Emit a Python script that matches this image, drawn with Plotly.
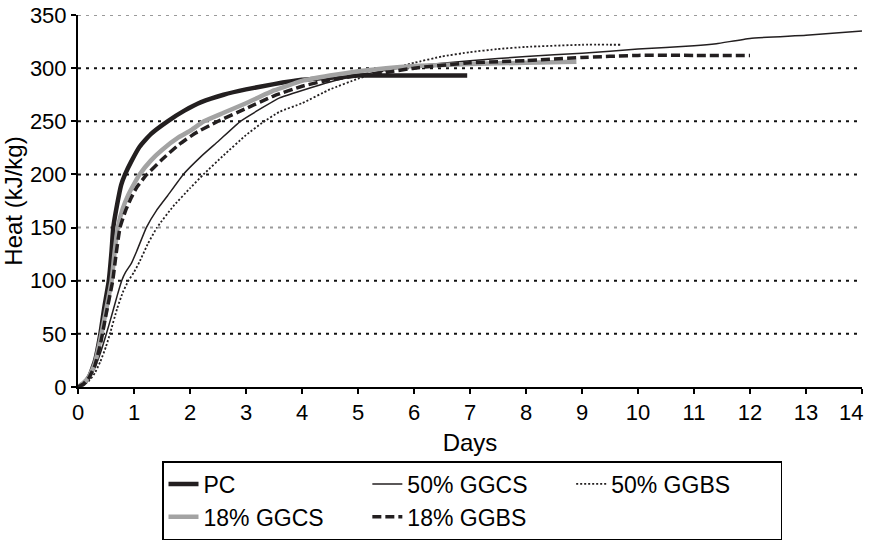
import plotly.graph_objects as go

# Cumulative heat of hydration (kJ/kg) against age (days)
pc_days = [0, 0.1, 0.2, 0.3, 0.4, 0.47, 0.55, 0.6, 0.63, 0.7, 0.77, 0.84, 0.95, 1.1, 1.3,
           1.6, 1.9, 2.2, 2.6, 3.0, 3.5, 4.0, 4.5, 5.0, 5.5, 6.0, 6.95]
pc_heat = [0, 3, 10, 24, 50, 75, 100, 128, 150, 172, 190, 200, 212, 226, 238,
           250, 260, 268, 275, 280, 285, 289, 291, 293, 293, 293, 293]

ggcs50_days = [0, 0.1, 0.2, 0.3, 0.4, 0.5, 0.6, 0.7, 0.78, 0.85, 0.95, 1.05, 1.22, 1.4,
               1.6, 1.88, 2.2, 2.5, 2.9, 3.3, 3.6, 4.0, 4.5, 5.0, 5.5, 6.0, 7.0, 8.0,
               9.0, 10.0, 11.0, 11.4, 12.0, 13.0, 14.0]
ggcs50_heat = [0, 3, 9, 18, 32, 49, 67, 86, 100, 108, 116, 128, 150, 166,
               180, 200, 217, 231, 250, 263, 272, 279, 287, 293, 298, 302, 307, 311,
               314, 318, 321, 323, 328, 331, 335]

ggbs50_days = [0, 0.1, 0.2, 0.3, 0.4, 0.5, 0.57, 0.7, 0.8, 0.9, 1.0, 1.1, 1.25, 1.41,
               1.7, 2.0, 2.24, 2.6, 3.0, 3.3, 3.6, 4.0, 4.5, 5.0, 5.5, 6.0, 6.5, 7.0,
               7.5, 8.0, 9.0, 9.7]
ggbs50_heat = [0, 2, 6, 13, 24, 38, 50, 74, 89, 100, 108, 118, 135, 150,
               170, 187, 200, 218, 237, 249, 259, 267, 280, 290, 298, 305, 311, 315,
               318, 320, 322, 322]

ggcs18_days = [0, 0.1, 0.2, 0.3, 0.4, 0.5, 0.6, 0.65, 0.71, 0.8, 0.9, 1.0, 1.1, 1.3, 1.5,
               1.8, 2.0, 2.25, 2.6, 3.0, 3.5, 4.0, 4.5, 5.0, 5.5, 6.0, 7.0, 8.0, 8.9]
ggcs18_heat = [0, 4, 10, 22, 45, 72, 100, 125, 150, 168, 181, 191, 200, 213, 223,
               235, 241, 250, 258, 267, 279, 288, 293, 297, 300, 302, 304, 305, 306]

ggbs18_days = [0, 0.1, 0.2, 0.3, 0.4, 0.5, 0.62, 0.68, 0.75, 0.85, 0.95, 1.05, 1.23, 1.5,
               1.8, 2.1, 2.5, 3.0, 3.5, 4.0, 4.5, 5.0, 5.5, 6.0, 7.0, 8.0, 9.0, 10.0,
               11.0, 12.0]
ggbs18_heat = [0, 3, 9, 20, 40, 68, 100, 125, 150, 166, 178, 188, 200, 214,
               228, 239, 250, 262, 274, 283, 289, 293, 296, 300, 305, 307, 310, 312,
               312, 312]

x_ticks = list(range(0, 15))
y_ticks = [0, 50, 100, 150, 200, 250, 300, 350]
grid_colors = {50: "#111111", 100: "#111111", 150: "#9a9a9a", 200: "#111111",
               250: "#111111", 300: "#111111", 350: "#9a9a9a"}

BLACK = "#231f20"
GREY = "#a3a3a3"
FAMILY = "Liberation Sans, Arial, sans-serif"

# the final day label is right-aligned to its tick so it stays on the page
x_labels = [str(v) for v in x_ticks]
x_labels[-1] = ""

fig = go.Figure()

# horizontal dotted guide lines at each y tick
for yv in y_ticks[1:]:
    fig.add_shape(type="line", xref="paper", yref="y", x0=0, x1=1, y0=yv, y1=yv,
                  line=dict(color=grid_colors[yv], width=2, dash="3px,5px"),
                  layer="below")

series = [
    ("PC", pc_days, pc_heat, dict(color=BLACK, width=4.5)),
    ("50% GGCS", ggcs50_days, ggcs50_heat, dict(color=BLACK, width=1.5)),
    ("50% GGBS", ggbs50_days, ggbs50_heat, dict(color=BLACK, width=1.8, dash="2px,2px")),
    ("18% GGCS", ggcs18_days, ggcs18_heat, dict(color=GREY, width=4.5)),
    ("18% GGBS", ggbs18_days, ggbs18_heat, dict(color=BLACK, width=3.5, dash="9px,4px")),
]
for name, xs, ys, ln in series:
    fig.add_trace(go.Scatter(x=xs, y=ys, mode="lines", name=name,
                             line=dict(shape="spline", smoothing=0.4, **ln)))

tick_font = dict(family=FAMILY, size=22, color="black")
title_font = dict(family=FAMILY, size=24, color="black")

fig.add_annotation(x=x_ticks[-1], y=y_ticks[0], xref="x", yref="y",
                   text=str(x_ticks[-1]), showarrow=False,
                   xanchor="right", yanchor="middle", xshift=3, yshift=-25,
                   font=tick_font)

fig.update_layout(
    width=871, height=542,
    margin=dict(l=78, r=9, t=15, b=155, autoexpand=False),
    paper_bgcolor="white", plot_bgcolor="white",
    font=tick_font,
    showlegend=True,
    legend=dict(orientation="h", xref="container", yref="container",
                x=0.186, y=1 - 461 / 542, xanchor="left", yanchor="top",
                bordercolor="black", borderwidth=1.5, bgcolor="white",
                entrywidth=0.26, entrywidthmode="fraction", itemwidth=30,
                font=dict(family=FAMILY, size=23, color="black"),
                traceorder="normal"),
)
fig.update_xaxes(range=[0, 14], tickvals=x_ticks, ticktext=x_labels,
                 automargin=False, showgrid=False, zeroline=False,
                 showline=True, linecolor="black", linewidth=2,
                 ticks="outside", ticklen=5, tickwidth=1.5, tickcolor="black",
                 title=dict(text="Days", standoff=10, font=title_font),
                 tickfont=tick_font)
fig.update_yaxes(range=[0, 350], tickvals=y_ticks, automargin=False,
                 showgrid=False, zeroline=False,
                 showline=True, linecolor="black", linewidth=2,
                 ticks="outside", ticklen=5, tickwidth=1.5, tickcolor="black",
                 title=dict(text="Heat (kJ/kg)", standoff=2, font=title_font),
                 tickfont=tick_font)

fig.write_html("out.html")
